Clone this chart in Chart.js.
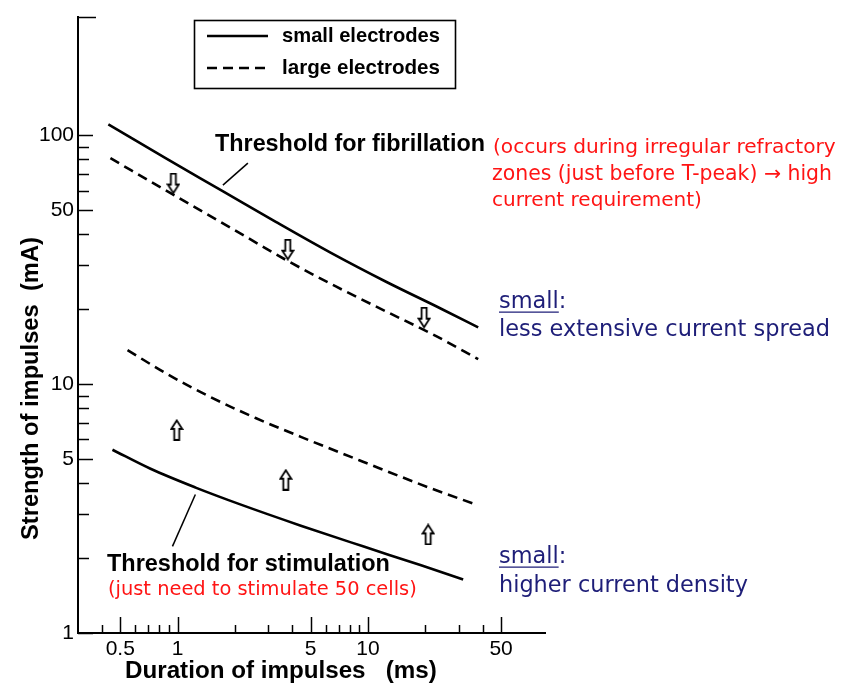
<!DOCTYPE html>
<html>
<head>
<meta charset="utf-8">
<script src="https://cdn.jsdelivr.net/npm/chart.js@4.4.1/dist/chart.umd.min.js"></script>
<style>
  html, body { margin: 0; padding: 0; background: #fff; }
  canvas { display: block; }
</style>
</head>
<body>
<canvas id="chart" width="841" height="688"></canvas>
<script>
// curves (duration in ms, strength in mA)
const fibSmallX = [0.433, 0.865, 1.725, 3.28, 6.39, 12.44, 24.2, 37.9];
const fibSmallY = [110.7, 80.9, 59.7, 44.9, 33.7, 25.8, 20.1, 16.9];
const fibLargeX = [0.444, 0.919, 1.9, 3.7, 6.78, 12.44, 22.8, 37.9];
const fibLargeY = [80.9, 58.6, 42.5, 31.6, 24.7, 19.6, 15.6, 12.6];
const stimLargeX = [0.546, 0.886, 1.49, 2.57, 4.44, 9.41, 20.9, 37.0];
const stimLargeY = [13.7, 10.96, 8.87, 7.31, 6.14, 4.88, 3.84, 3.28];
const stimSmallX = [0.455, 0.721, 1.244, 2.15, 4.44, 9.41, 19.0, 31.6];
const stimSmallY = [5.45, 4.57, 3.84, 3.28, 2.70, 2.23, 1.87, 1.64];

// hollow arrows between the curves
const downArrowX = [0.95, 3.79, 19.7];
const downArrowY = [64, 34.7, 18.5];
const upArrowX = [0.99, 3.7, 20.7];
const upArrowY = [6.55, 4.13, 2.49];

// pointer lines from the labels to the curves
const fibLeaderX = [1.73, 2.34];
const fibLeaderY = [63.1, 77.3];
const stimLeaderX = [1.24, 0.94];
const stimLeaderY = [3.6, 2.23];

// axis ticks
const xTicks = [0.4, 0.5, 0.6, 0.7, 0.8, 0.9, 1, 2, 3, 4, 5, 6, 7, 8, 9, 10, 20, 30, 40, 50];
const xLabels = [0.5, 1, 5, 10, 50];
const yTicks = [1, 2, 3, 4, 5, 6, 7, 8, 9, 10, 20, 30, 40, 50, 60, 70, 80, 90, 100, 300];
const yLabels = [1, 5, 10, 50, 100];

const zip = (xs, ys) => xs.map((x, i) => ({ x: x, y: ys[i] }));

function makeArrow(up) {
    const c = document.createElement('canvas');
    c.width = 14;
    c.height = 22;
    const g = c.getContext('2d');
    g.translate(0, up ? 22 : 0);
    g.scale(1, up ? -1 : 1);
    g.beginPath();
    g.moveTo(4.5, 1);
    g.lineTo(9.5, 1);
    g.lineTo(9.5, 12);
    g.lineTo(12.5, 12);
    g.lineTo(7, 20.5);
    g.lineTo(1.5, 12);
    g.lineTo(4.5, 12);
    g.closePath();
    g.fillStyle = '#fff';
    g.fill();
    g.lineWidth = 1.8;
    g.strokeStyle = '#000';
    g.stroke();
    return c;
}

function curve(label, xs, ys, dash) {
    return {
        label: label,
        data: zip(xs, ys),
        borderColor: '#000',
        borderWidth: 2.6,
        borderDash: dash,
        pointRadius: 0,
        cubicInterpolationMode: 'monotone',
        fill: false
    };
}

function leader(xs, ys) {
    return {
        data: zip(xs, ys),
        borderColor: '#000',
        borderWidth: 1.5,
        pointRadius: 0,
        fill: false
    };
}

function arrows(xs, ys, up) {
    return {
        data: zip(xs, ys),
        showLine: false,
        pointStyle: makeArrow(up),
        pointRadius: 8
    };
}

// draw text stretched to a measured width
function fitText(ctx, text, x, y, width, weight, family, color) {
    ctx.font = weight + ' 20px ' + family;
    const size = 20 * width / ctx.measureText(text).width;
    ctx.font = weight + ' ' + size.toFixed(2) + 'px ' + family;
    ctx.fillStyle = color;
    ctx.textBaseline = 'middle';
    ctx.textAlign = 'left';
    ctx.fillText(text, x, y);
    return size;
}

const BOLD = '"Liberation Sans", Arial, sans-serif';
const SOFT = '"DejaVu Sans", sans-serif';
const RED = '#ff1414';
const NAVY = '#1e1e78';

const decorations = {
    id: 'decorations',
    afterDraw(chart) {
        const ctx = chart.ctx;
        const xs = chart.scales.x;
        const ys = chart.scales.y;
        const area = chart.chartArea;
        ctx.save();

        // inward tick marks
        ctx.strokeStyle = '#000';
        ctx.lineWidth = 1.5;
        yTicks.forEach(v => {
            const py = Math.round(ys.getPixelForValue(v)) + 0.5;
            const len = v === 300 ? 18 : (yLabels.includes(v) ? 15 : 11);
            ctx.beginPath();
            ctx.moveTo(area.left, py);
            ctx.lineTo(area.left + len, py);
            ctx.stroke();
        });
        xTicks.forEach(v => {
            const px = Math.round(xs.getPixelForValue(v)) + 0.5;
            const len = xLabels.includes(v) ? 16 : 8;
            ctx.beginPath();
            ctx.moveTo(px, area.bottom);
            ctx.lineTo(px, area.bottom - len);
            ctx.stroke();
        });

        // legend box
        const ds = chart.data.datasets;
        ctx.lineWidth = 1.6;
        ctx.strokeRect(194.5, 20.5, 261, 68);
        [[0, 36, 'small electrodes'], [1, 68, 'large electrodes']].forEach(([i, y, t]) => {
            ctx.beginPath();
            ctx.setLineDash(ds[i].borderDash || []);
            ctx.lineWidth = ds[i].borderWidth;
            ctx.moveTo(207, y);
            ctx.lineTo(268, y);
            ctx.stroke();
            ctx.setLineDash([]);
            fitText(ctx, t, 282, y, 158, 'bold', BOLD, '#000');
        });

        // annotations
        fitText(ctx, 'Threshold for fibrillation', 215, 145, 270, 'bold', BOLD, '#000');
        fitText(ctx, '(occurs during irregular refractory', 493, 148, 343, 'normal', SOFT, RED);
        fitText(ctx, 'zones (just before T-peak) \u2192 high', 492, 175, 340, 'normal', SOFT, RED);
        fitText(ctx, 'current requirement)', 492, 201, 210, 'normal', SOFT, RED);

        fitText(ctx, 'Threshold for stimulation', 107, 565, 283, 'bold', BOLD, '#000');
        fitText(ctx, '(just need to stimulate 50 cells)', 108, 590, 309, 'normal', SOFT, RED);

        [[302, 330, 'less extensive current spread', 331], [557, 586, 'higher current density', 249]].forEach(([y1, y2, t, w]) => {
            const size = fitText(ctx, t, 499, y2, w, 'normal', SOFT, NAVY);
            ctx.font = 'normal ' + size.toFixed(2) + 'px ' + SOFT;
            ctx.fillText('small:', 499, y1);
            const uw = ctx.measureText('small').width;
            ctx.strokeStyle = NAVY;
            ctx.lineWidth = 1.3;
            ctx.beginPath();
            ctx.moveTo(499, y1 + size * 0.45);
            ctx.lineTo(499 + uw, y1 + size * 0.45);
            ctx.stroke();
        });

        // axis titles
        fitText(ctx, 'Duration of impulses   (ms)', 125, 671, 312, 'bold', BOLD, '#000');
        ctx.translate(31, 540);
        ctx.rotate(-Math.PI / 2);
        fitText(ctx, 'Strength of impulses  (mA)', 0, 0, 303, 'bold', BOLD, '#000');

        ctx.restore();
    }
};

const tickFont = { family: BOLD, size: 21 };

new Chart(document.getElementById('chart'), {
    type: 'line',
    data: {
        datasets: [
            curve('small electrodes', fibSmallX, fibSmallY, []),
            curve('large electrodes', fibLargeX, fibLargeY, [10, 6]),
            curve('large electrodes', stimLargeX, stimLargeY, [10, 6]),
            curve('small electrodes', stimSmallX, stimSmallY, []),
            leader(fibLeaderX, fibLeaderY),
            leader(stimLeaderX, stimLeaderY),
            arrows(downArrowX, downArrowY, false),
            arrows(upArrowX, upArrowY, true)
        ]
    },
    options: {
        responsive: false,
        animation: false,
        layout: { padding: { top: 12, right: 296, left: 0, bottom: 0 } },
        plugins: {
            legend: { display: false },
            tooltip: { enabled: false }
        },
        scales: {
            x: {
                type: 'logarithmic',
                min: 0.3,
                max: 85,
                border: { color: '#000', width: 2 },
                grid: { display: true, drawOnChartArea: false, drawTicks: false },
                afterBuildTicks: s => { s.ticks = xTicks.map(v => ({ value: v })); },
                afterFit: s => { s.height = 55; },
                ticks: {
                    autoSkip: false,
                    maxRotation: 0,
                    padding: 4,
                    color: '#000',
                    font: tickFont,
                    callback: v => xLabels.includes(v) ? String(v) : ''
                }
            },
            y: {
                type: 'logarithmic',
                min: 1,
                max: 300,
                border: { color: '#000', width: 2 },
                grid: { display: true, drawOnChartArea: false, drawTicks: false },
                afterBuildTicks: s => { s.ticks = yTicks.map(v => ({ value: v })); },
                afterFit: s => { s.width = 78; },
                ticks: {
                    autoSkip: false,
                    padding: 4,
                    color: '#000',
                    font: tickFont,
                    callback: v => yLabels.includes(v) ? String(v) : ''
                }
            }
        }
    },
    plugins: [decorations]
});
</script>
</body>
</html>
